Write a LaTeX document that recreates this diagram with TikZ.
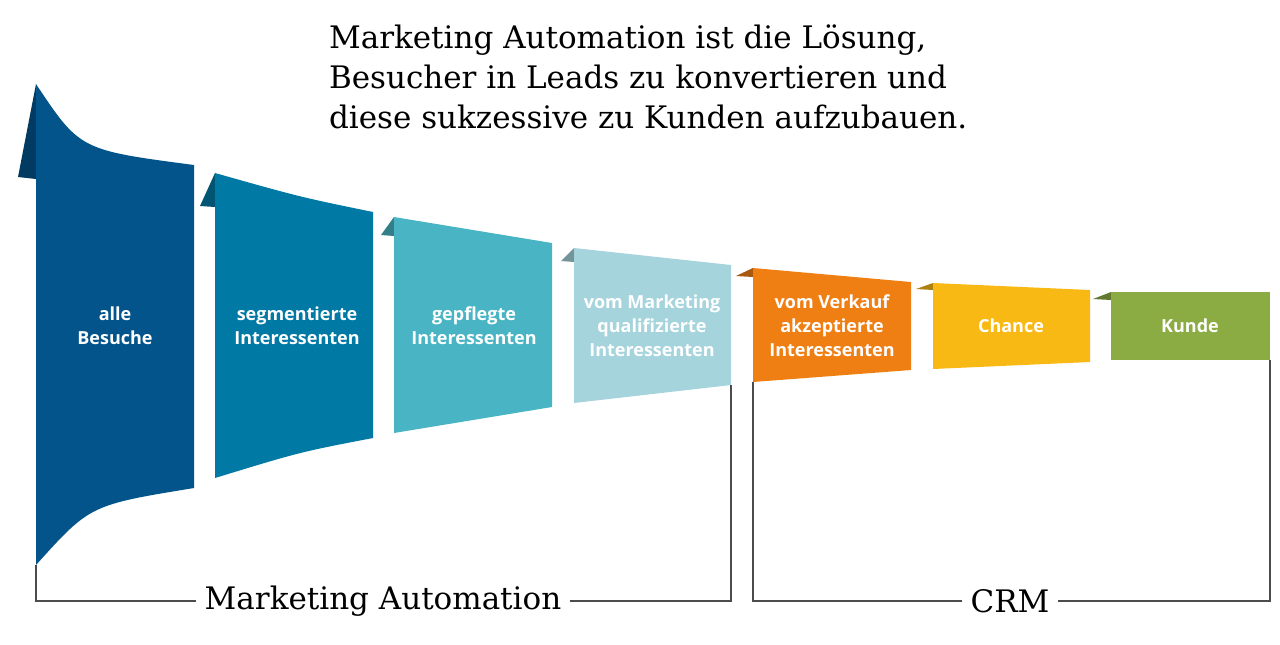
\documentclass[tikz,border=0pt]{standalone}
\usepackage{fontspec}
\setmainfont{DejaVu Serif}
\newfontfamily\labelfont{Open Sans}
\usepackage{tikz}
\definecolor{cA}{HTML}{03548B}\definecolor{cB}{HTML}{0179A5}
\definecolor{cC}{HTML}{49B5C4}\definecolor{cD}{HTML}{A5D4DD}
\definecolor{cE}{HTML}{F07F13}\definecolor{cF}{HTML}{F9B914}
\definecolor{cG}{HTML}{8AAC42}
\begin{document}
\begin{tikzpicture}[x=0.5pt, y=-0.5pt,
	panel label/.style={text=white, align=center, font=\labelfont\bfseries\fontsize{9}{12}\selectfont},
	flap/.style={fill=#1!70!black},
	bracket/.style={draw=black!70, line width=0.6pt},
	bracket label/.style={fill=white, inner xsep=4pt, font=\fontsize{15.5}{18}\selectfont}]
	\useasboundingbox (0,0) rectangle (1280,644);
	
	\node[anchor=north west, align=left, font=\fontsize{15.5}{20}\selectfont] (title) at (322,18)
	{Marketing Automation ist die Lösung,\\Besucher in Leads zu konvertieren und\\diese sukzessive zu Kunden aufzubauen.};
	
	% panels
	\fill[flap=cA] (36,84) -- (18,177) -- (36,179) -- cycle;
	\fill[cA] (36,84) .. controls (80,150) .. (194,165) -- (194,488) .. controls (90,505) .. (36,565) -- cycle;
	\fill[flap=cB] (215,173) -- (200,206) -- (215,207) -- cycle;
	\fill[cB] (215,173) .. controls (300,197) .. (373,212) -- (373,438) .. controls (300,452) .. (215,478) -- cycle;
	\fill[flap=cC] (394,217) -- (381,235) -- (394,236) -- cycle;
	\fill[cC] (394,217) -- (552,243) -- (552,407) -- (394,433) -- cycle;
	\fill[flap=cD] (574,248) -- (561,261) -- (574,262) -- cycle;
	\fill[cD] (574,248) -- (731,265) -- (731,385) -- (574,403) -- cycle;
	\fill[flap=cE] (753,268) -- (736,276) -- (753,277) -- cycle;
	\fill[cE] (753,268) -- (911,282) -- (911,370) -- (753,382) -- cycle;
	\fill[flap=cF] (933,283) -- (916,289) -- (933,290) -- cycle;
	\fill[cF] (933,283) -- (1090,290) -- (1090,362) -- (933,369) -- cycle;
	\fill[flap=cG] (1111,292) -- (1093,299) -- (1111,300) -- cycle;
	\fill[cG] (1111,292) -- (1270,292) -- (1270,360) -- (1111,360) -- cycle;
	
	\node[panel label] (besuche) at (115,326) {alle\\Besuche};
	\node[panel label] (segmentiert) at (297,326) {segmentierte\\Interessenten};
	\node[panel label] (gepflegt) at (474,326) {gepflegte\\Interessenten};
	\node[panel label] (mql) at (652,326) {vom Marketing\\qualifizierte\\Interessenten};
	\node[panel label] (sal) at (832,326) {vom Verkauf\\akzeptierte\\Interessenten};
	\node[panel label] (chance) at (1011,326) {Chance};
	\node[panel label] (kunde) at (1190,326) {Kunde};
	
	% brackets
	\node[bracket label] (ma) at (383,601) {Marketing Automation};
	\node[bracket label] (crm) at (1010,601) {CRM};
	\coordinate (maL) at (36,565); \coordinate (maR) at (731,385);
	\coordinate (crmL) at (753,382); \coordinate (crmR) at (1270,360);
	\draw[bracket] (ma.west) -- (maL |- ma.west) -- (maL);
	\draw[bracket] (ma.east) -- (maR |- ma.east) -- (maR);
	\draw[bracket] (crm.west) -- (crmL |- crm.west) -- (crmL);
	\draw[bracket] (crm.east) -- (crmR |- crm.east) -- (crmR);
\end{tikzpicture}
\end{document}
